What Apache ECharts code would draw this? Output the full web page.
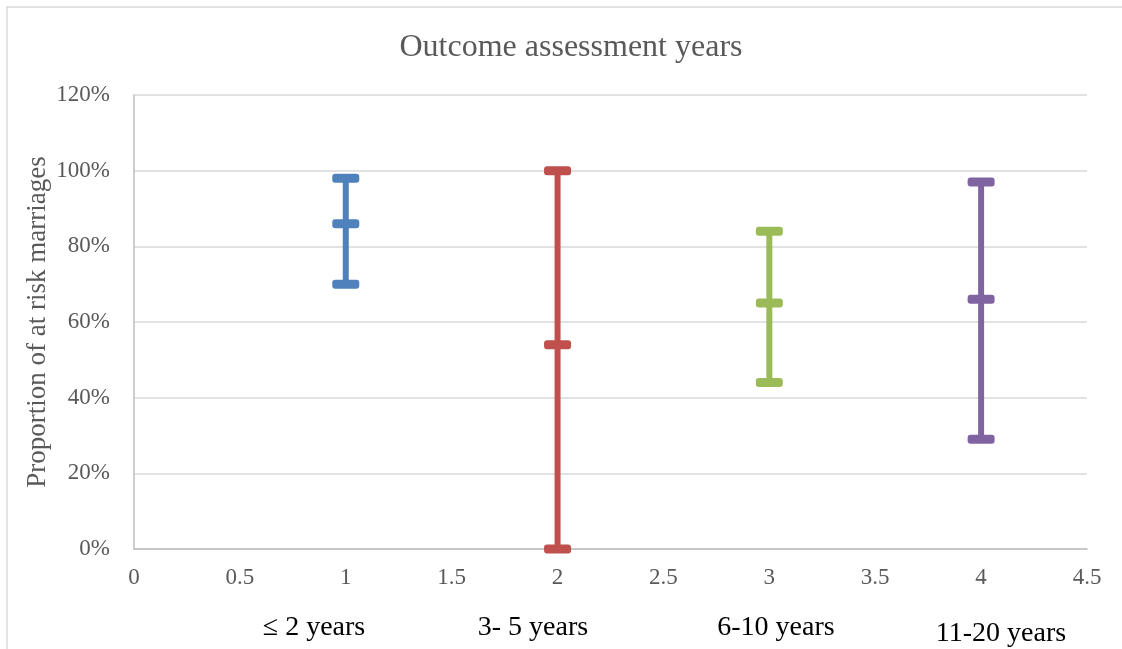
<!DOCTYPE html>
<html>
<head>
<meta charset="utf-8">
<script src="https://cdn.jsdelivr.net/npm/echarts@6/dist/echarts.min.js"></script>
<style>
html,body{margin:0;padding:0;background:#fff;}
#chart{width:1122px;height:649px;}
</style>
</head>
<body>
<div id="chart"></div>
<script>
// Data
var groupLabels = ['\u2264 2 years', '3- 5 years', '6-10 years', '11-20 years'];
var xPositions = [1, 2, 3, 4];
var lowValues = [70, 0, 44, 29];
var midValues = [86, 54, 65, 66];
var highValues = [98, 100, 84, 97];
var seriesColors = ['#4f81bd', '#c0504d', '#9bbb59', '#8064a2'];
var yTicks = [0, 20, 40, 60, 80, 100, 120];
var xTicks = [0, 0.5, 1, 1.5, 2, 2.5, 3, 3.5, 4, 4.5];

var FONT = '"Liberation Serif", "Times New Roman", serif';

function renderBar(params, api) {
  var x = api.value(0);
  var pLow = api.coord([x, api.value(1)]);
  var pMid = api.coord([x, api.value(2)]);
  var pHigh = api.coord([x, api.value(3)]);
  var color = api.visual('color');
  var w = 27, h = 9;
  function cap(p) {
    return {type: 'rect', shape: {x: p[0] - w / 2, y: p[1] - h / 2, width: w, height: h, r: 3},
      style: {fill: color}};
  }
  return {
    type: 'group',
    children: [
      {type: 'line', shape: {x1: pLow[0], y1: pLow[1], x2: pHigh[0], y2: pHigh[1]},
       style: {stroke: color, lineWidth: 6}},
      cap(pLow), cap(pMid), cap(pHigh)
    ]
  };
}

var series = xPositions.map(function (x, i) {
  return {
    type: 'custom',
    name: groupLabels[i],
    renderItem: renderBar,
    itemStyle: {color: seriesColors[i]},
    encode: {x: 0, y: [1, 2, 3]},
    data: [[x, lowValues[i], midValues[i], highValues[i]]],
    z: 5
  };
});

var labelPos = [[314, 628], [533, 628], [776, 628], [1001, 634]];
var graphics = [
  {type: 'rect', shape: {x: 7, y: 7, width: 1140, height: 700}, silent: true,
   style: {fill: null, stroke: '#d9d9d9', lineWidth: 1.5}, z: -1}
];
groupLabels.forEach(function (t, i) {
  graphics.push({type: 'text', x: labelPos[i][0], y: labelPos[i][1],
    style: {text: t, font: '28px ' + FONT, fill: '#000', align: 'center', verticalAlign: 'middle'}});
});

var chart = echarts.init(document.getElementById('chart'));
chart.setOption({
  animation: false,
  backgroundColor: '#fff',
  title: {
    text: 'Outcome assessment years',
    left: 566, top: 27, textAlign: 'center',
    textStyle: {fontFamily: FONT, fontSize: 32, fontWeight: 'normal', color: '#595959'}
  },
  grid: {left: 134, top: 95, right: 35, bottom: 100, containLabel: false},
  xAxis: {
    type: 'value', min: xTicks[0], max: xTicks[xTicks.length - 1], interval: 0.5,
    axisLine: {show: true, lineStyle: {color: '#bfbfbf', width: 1.5}},
    axisTick: {show: false},
    splitLine: {show: false},
    axisLabel: {margin: 17, fontFamily: FONT, fontSize: 23, color: '#595959',
      formatter: function (v) { return String(v); }}
  },
  yAxis: {
    type: 'value', min: yTicks[0], max: yTicks[yTicks.length - 1], interval: 20,
    name: 'Proportion of at risk marriages',
    nameLocation: 'middle', nameGap: 83, nameRotate: 90, nameMoveOverlap: false,
    nameTextStyle: {fontFamily: FONT, fontSize: 27, color: '#595959'},
    axisLine: {show: true, lineStyle: {color: '#bfbfbf', width: 1.5}},
    axisTick: {show: false},
    splitLine: {show: true, lineStyle: {color: '#d9d9d9', width: 1.5}},
    axisLabel: {margin: 24, fontFamily: FONT, fontSize: 23, color: '#595959',
      formatter: function (v) { return v + '%'; }}
  },
  graphic: graphics,
  series: series
});
</script>
</body>
</html>
